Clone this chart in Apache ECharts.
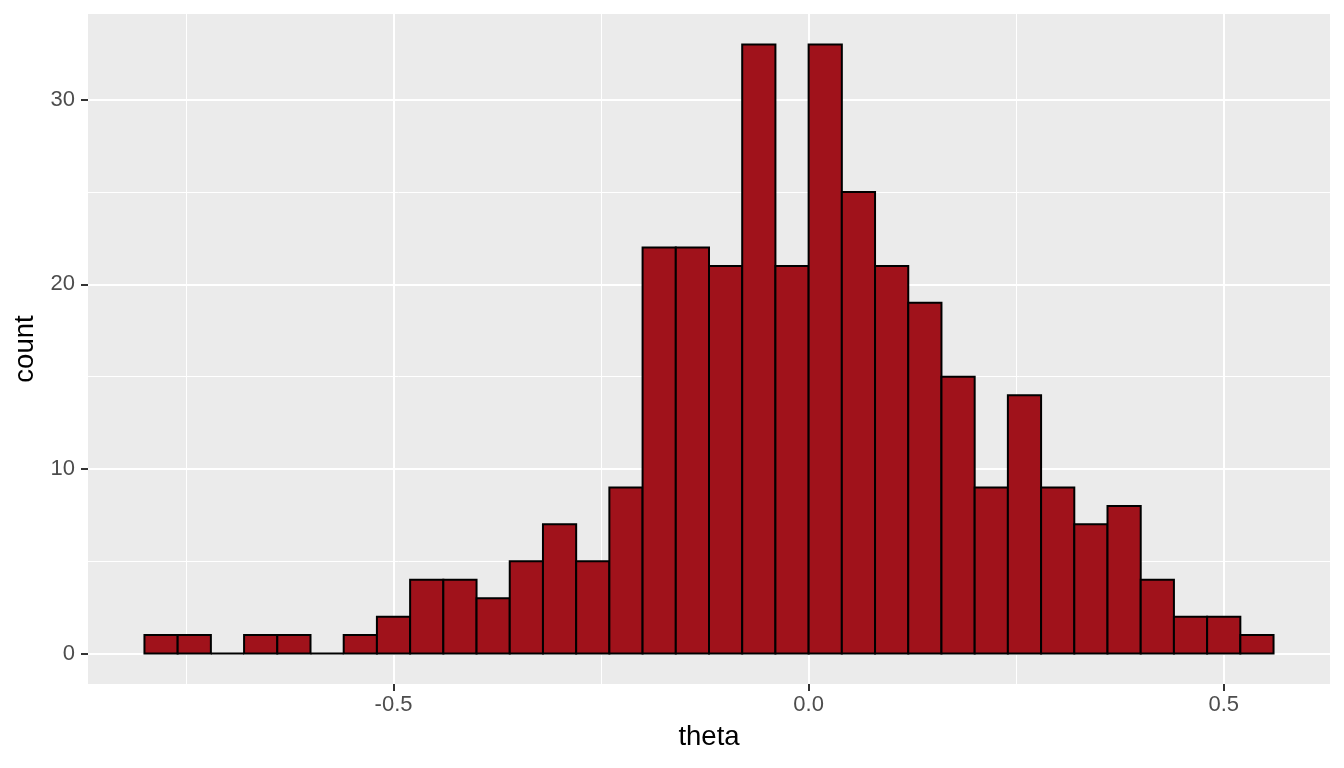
<!DOCTYPE html>
<html>
<head>
<meta charset="utf-8">
<script src="https://cdn.jsdelivr.net/npm/echarts@6/dist/echarts.min.js"></script>
<style>html,body{margin:0;padding:0;background:#fff}#c{width:1344px;height:768px}</style>
</head>
<body>
<div id="c"></div>
<script>
// Histogram data: bin starts at -0.8, bin width 0.04
const binStart = -0.8;
const binWidth = 0.04;
const counts = [1, 1, 0, 1, 1, 0, 1, 2, 4, 4, 3, 5, 7, 5, 9, 22, 22, 21, 33, 21, 33, 25, 21, 19, 15, 9, 14, 9, 7, 8, 4, 2, 2, 1];
const xTicks = [-0.5, 0.0, 0.5];
const xMinor = [-0.75, -0.25, 0.25];
const yTicks = [0, 10, 20, 30];
const yMinor = [5, 15, 25];

const xMin = -0.868, xMax = 0.628;
const yMin = -1.65, yMax = 34.65;

const barData = counts.map((c, i) => [binStart + i * binWidth, binStart + (i + 1) * binWidth, c]);

const chart = echarts.init(document.getElementById('c'), null, {renderer: 'canvas'});

const gridLines = [];
xMinor.forEach(v => gridLines.push({xAxis: v, lineStyle: {width: 1, color: '#fff', type: 'solid'}}));
yMinor.forEach(v => gridLines.push({yAxis: v, lineStyle: {width: 1, color: '#fff', type: 'solid'}}));
xTicks.forEach(v => gridLines.push({xAxis: v, lineStyle: {width: 2, color: '#fff', type: 'solid'}}));
yTicks.forEach(v => gridLines.push({yAxis: v, lineStyle: {width: 2, color: '#fff', type: 'solid'}}));

const FONT = 'Liberation Sans, Arial, sans-serif';

chart.setOption({
  animation: false,
  grid: {left: 88, right: 14, top: 14, bottom: 84, show: true, backgroundColor: '#EBEBEB', borderWidth: 0, containLabel: false},
  xAxis: {
    type: 'value', min: xMin, max: xMax,
    name: 'theta', nameLocation: 'middle', nameGap: 39,
    nameTextStyle: {fontSize: 27.5, color: '#000', fontFamily: FONT},
    axisLine: {show: false, onZero: false},
    splitLine: {show: false},
    axisTick: {show: true, length: 7, lineStyle: {color: '#333', width: 2}, customValues: xTicks},
    axisLabel: {customValues: xTicks, margin: 10, fontSize: 22, color: '#4D4D4D', fontFamily: FONT,
      formatter: v => v.toFixed(1)}
  },
  yAxis: {
    type: 'value', min: yMin, max: yMax,
    name: 'count', nameLocation: 'middle', nameGap: 48, nameRotate: 90,
    nameTextStyle: {fontSize: 27.5, color: '#000', fontFamily: FONT},
    axisLine: {show: false, onZero: false},
    splitLine: {show: false},
    axisTick: {show: true, length: 7, lineStyle: {color: '#333', width: 2}, customValues: yTicks},
    axisLabel: {customValues: yTicks, margin: 13, fontSize: 22, color: '#4D4D4D', fontFamily: FONT,
      formatter: v => String(Math.round(v))}
  },
  series: [{
    type: 'line',
    data: [],
    silent: true,
    z: 1,
    markLine: {
      silent: true, symbol: 'none', label: {show: false}, animation: false,
      z: 1,
      data: gridLines
    }
  }, {
    type: 'custom',
    data: barData,
    silent: true,
    z: 10,
    renderItem: function (params, api) {
      const p0 = api.coord([api.value(0), api.value(2)]);
      const p1 = api.coord([api.value(1), 0]);
      return {
        type: 'rect',
        shape: {x: p0[0], y: p0[1], width: p1[0] - p0[0], height: p1[1] - p0[1]},
        style: {fill: '#A0121B', stroke: '#000', lineWidth: 2}
      };
    }
  }]
});
</script>
</body>
</html>
